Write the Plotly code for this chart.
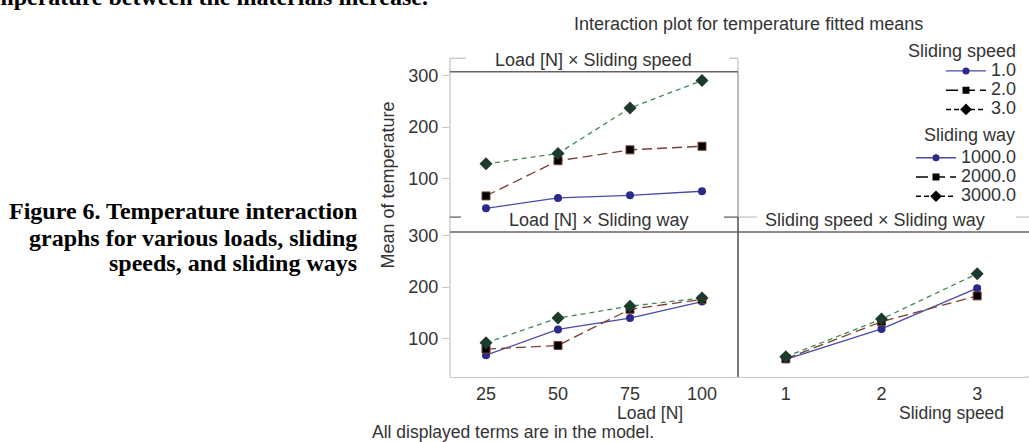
import plotly.graph_objects as go

W, H = 1029, 442


def fx(p):
    return p / W


def fy(p):
    return 1 - p / H


# ---------------- data ----------------
load = [25, 50, 75, 100]
speed = [1, 2, 3]
speed_levels = ["1.0", "2.0", "3.0"]
way_levels = ["1000.0", "2000.0", "3000.0"]

# Load [N] x Sliding speed (top-left panel)
ls_speed1 = [43, 63, 68, 76]
ls_speed2 = [67, 135, 156, 163]
ls_speed3 = [129, 149, 237, 290]

# Load [N] x Sliding way (bottom-left panel)
lw_way1000 = [68, 118, 140, 172]
lw_way2000 = [80, 87, 157, 176]
lw_way3000 = [92, 140, 163, 179]

# Sliding speed x Sliding way (bottom-right panel)
sw_way1000 = [60, 119, 198]
sw_way2000 = [61, 133, 183]
sw_way3000 = [65, 138, 226]

y_ticks = [100, 200, 300]
load_ticks = [25, 50, 75, 100]
speed_ticks = [1, 2, 3]

# ---------------- styles ----------------
SANS = "Liberation Sans, Arial, sans-serif"
SERIF = "Liberation Serif, Times New Roman, serif"
TXT = "#333333"
LIGHT = "#c8c6c6"
DARK = "#6a6260"

series_styles = [
    dict(line=dict(color="#4a4aa8", width=1.3, dash="solid"),
         marker=dict(symbol="circle", size=8, color="#2b2b8c", line=dict(width=0))),
    dict(line=dict(color="#7a4032", width=1.3, dash="10px,5px"),
         marker=dict(symbol="square", size=8, color="#000000", line=dict(color="#7a4032", width=1))),
    dict(line=dict(color="#3f8a52", width=1.3, dash="5px,4px"),
         marker=dict(symbol="diamond", size=10, color="#1d3b2a", line=dict(width=0))),
]
legend_styles = [
    dict(line=dict(color="#4a4aa8", width=1.3, dash="solid"),
         marker=dict(symbol="circle", size=7, color="#2b2b8c", line=dict(width=0))),
    dict(line=dict(color="#000000", width=1.6, dash="12px,5px"),
         marker=dict(symbol="square", size=7, color="#000000", line=dict(width=0))),
    dict(line=dict(color="#000000", width=1.4, dash="5px,3px"),
         marker=dict(symbol="diamond", size=9, color="#000000", line=dict(width=0))),
]

fig = go.Figure()

panels = [
    ("x", "y", load, [ls_speed1, ls_speed2, ls_speed3]),
    ("x2", "y2", load, [lw_way1000, lw_way2000, lw_way3000]),
    ("x3", "y3", speed, [sw_way1000, sw_way2000, sw_way3000]),
]
for xa, ya, xs, series in panels:
    for i, ys in enumerate(series):
        st = series_styles[i]
        fig.add_trace(go.Scatter(
            x=xs, y=ys, xaxis=xa, yaxis=ya, mode="lines+markers",
            line=st["line"], marker=st["marker"], showlegend=False,
            hoverinfo="skip"))

# legend-only entries
for legname, levels in (("legend", speed_levels), ("legend2", way_levels)):
    for i, name in enumerate(levels):
        st = legend_styles[i]
        fig.add_trace(go.Scatter(
            x=[None], y=[None], mode="lines+markers",
            name='<span style="font-size:18px">%s</span>' % name,
            line=st["line"], marker=st["marker"], legend=legname,
            showlegend=True))

# ---------------- axes ----------------
X_LEFT, X_MID, X_RIGHT = 450, 738, 1025
Y_TOP1, Y_BOT1 = 66.7, 214
Y_TOP2, Y_BOT2 = 229, 376
YR = [26, 307]

tickfont = dict(family=SANS, size=18, color=TXT)

common_y = dict(range=YR, tickvals=y_ticks, ticks="outside", ticklen=7,
                tickcolor=LIGHT, tickwidth=1, showgrid=False, zeroline=False,
                showline=False, tickfont=tickfont)

fig.update_layout(
    xaxis=dict(domain=[fx(X_LEFT), fx(X_MID)], range=[12.5, 112.5], anchor="y",
               showticklabels=False, ticks="", showgrid=False, zeroline=False,
               showline=False),
    yaxis=dict(domain=[fy(Y_BOT1), fy(Y_TOP1)], anchor="x", **common_y),
    xaxis2=dict(domain=[fx(X_LEFT), fx(X_MID)], range=[12.5, 112.5], anchor="y2",
                tickvals=load_ticks, ticks="", showgrid=False, zeroline=False,
                showline=True, linecolor=LIGHT, linewidth=1.3, tickfont=tickfont),
    yaxis2=dict(domain=[fy(Y_BOT2), fy(Y_TOP2)], anchor="x2", **common_y),
    xaxis3=dict(domain=[fx(X_MID), fx(X_RIGHT)], range=[0.5, 3.5], anchor="y3",
                tickvals=speed_ticks, ticks="", showgrid=False, zeroline=False,
                showline=True, linecolor=LIGHT, linewidth=1.3, tickfont=tickfont),
    yaxis3=dict(domain=[fy(Y_BOT2), fy(Y_TOP2)], anchor="x3", range=YR,
                showticklabels=False, ticks="", showgrid=False, zeroline=False,
                showline=False),
)

# ---------------- frame / strip lines ----------------
def seg(x0, y0, x1, y1, color, width=1.3):
    return dict(type="line", xref="paper", yref="paper",
                x0=fx(x0), y0=fy(y0), x1=fx(x1), y1=fy(y1),
                line=dict(color=color, width=width), layer="below")

shapes = [
    seg(X_LEFT, 53, X_LEFT, Y_BOT2, LIGHT),            # left frame line
    seg(X_LEFT, 53, 466, 53, LIGHT),                    # top strip corners
    seg(729, 53, X_MID, 53, LIGHT),
    seg(X_MID, 53, X_MID, Y_TOP1, LIGHT),
    seg(X_MID, Y_TOP1, X_MID, Y_BOT1, "#9a9696"),
    seg(X_LEFT, Y_TOP1, X_MID, Y_TOP1, DARK, 1.5),     # top strip bottom
    seg(X_LEFT, Y_BOT1, 461, Y_BOT1, DARK),             # lower-left strip corners
    seg(724, Y_BOT1, X_MID, Y_BOT1, DARK),
    seg(X_MID, Y_BOT1, 757, Y_BOT1, LIGHT),             # lower-right strip corners
    seg(1016, Y_BOT1, 1029, Y_BOT1, LIGHT),
    seg(X_LEFT, Y_TOP2, 1029, Y_TOP2, DARK, 1.5),       # lower strips bottom
    seg(X_MID, Y_BOT1, X_MID, Y_BOT2, "#5e5856", 1.6),  # vertical divider
    seg(X_RIGHT, Y_BOT2, 1029, Y_BOT2, LIGHT),
]

# ---------------- text ----------------
def ann(text, x, y, size=18, xanchor="center", color=TXT, family=SANS,
        angle=0, yanchor="middle"):
    return dict(text=text, x=fx(x), y=fy(y), xref="paper", yref="paper",
                xanchor=xanchor, yanchor=yanchor, showarrow=False,
                textangle=angle, font=dict(family=family, size=size, color=color))

annotations = [
    ann("Interaction plot for temperature fitted means", 748, 18),
    ann("Load [N] × Sliding speed", 593, 55),
    ann("Load [N] × Sliding way", 599, 217),
    ann("Sliding speed × Sliding way", 875, 217),
    ann("Mean of temperature", 388, 182, angle=-90),
    ann("Load [N]", 650, 413, size=17.5),
    ann("Sliding speed", 951, 413, size=17.5),
    ann("All displayed terms are in the model.", 370, 432, size=17.5, xanchor="left"),
    ann("Sliding speed", 1018, 46, xanchor="right"),
    ann("Sliding way", 1017, 131, xanchor="right"),
    ann("<b>Figure 6. Temperature interaction</b>", 359, 208, size=24,
        xanchor="right", color="#000000", family=SERIF),
    ann("<b>graphs for various loads, sliding</b>", 359, 235, size=24,
        xanchor="right", color="#000000", family=SERIF),
    ann("<b>speeds, and sliding ways</b>", 359, 261, size=24,
        xanchor="right", color="#000000", family=SERIF),
    ann("<b>temperature between the materials increase.</b>", 430, -9, size=24,
        xanchor="right", color="#000000", family=SERIF),
]

legend_common = dict(
    xanchor="right", yanchor="top", bgcolor="rgba(0,0,0,0)", borderwidth=0,
    font=dict(family=SANS, size=12.5, color=TXT), itemwidth=40,
    tracegroupgap=0, orientation="v", itemclick=False, itemdoubleclick=False)

fig.update_layout(
    width=W, height=H, autosize=False,
    margin=dict(l=0, r=0, t=0, b=0, pad=0),
    paper_bgcolor="white", plot_bgcolor="white",
    shapes=shapes, annotations=annotations,
    legend=dict(x=fx(1022), y=fy(51), **legend_common),
    legend2=dict(x=fx(1022), y=fy(139), **legend_common),
    showlegend=True,
)

post = (
    "document.body.style.margin='0';"
    "document.body.style.padding='0';"
    "document.body.style.overflow='hidden';"
    "var d=document.getElementById('{plot_id}');"
    "d.style.position='absolute';d.style.left='0px';d.style.top='0px';"
)

fig.write_html("out.html", post_script=post,
               config={"displayModeBar": False, "staticPlot": False})
